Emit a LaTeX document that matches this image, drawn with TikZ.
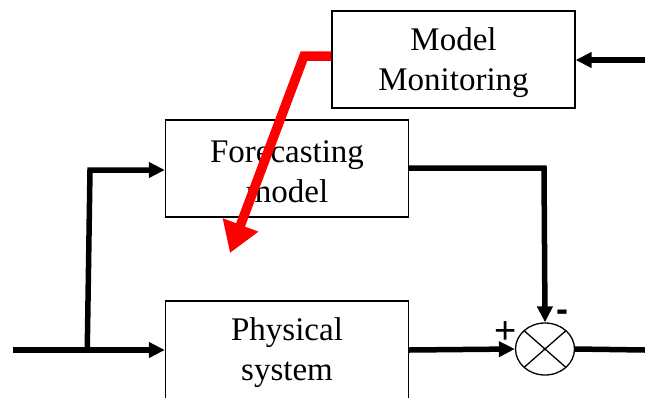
\documentclass[tikz,border=0pt]{standalone}
\usepackage{fontspec}
\setmainfont{Liberation Serif}
\newfontfamily\arialfont{Liberation Sans}
\usetikzlibrary{arrows.meta,shapes.geometric,calc}
\begin{document}
\begin{tikzpicture}[x=1pt,y=-1pt,
  blk/.style={draw, line width=1.3pt, minimum width=243pt, minimum height=97pt, inner sep=0pt, align=center},
  txt/.style={inner sep=0pt, align=center, font=\fontsize{33}{40}\selectfont},
  sig/.style={line width=5.5pt, -{Triangle[length=16pt,width=15pt]}},
  wire/.style={line width=5.5pt},
  sgn/.style={inner sep=0pt, font=\arialfont\fontsize{38}{38}\selectfont}]
\useasboundingbox (0,0) rectangle (645,397);
\clip (0,0) rectangle (645,397);
\node[blk] (mm) at (453.5,59.5) {};
\node[txt] (mmt) at (453.5,63) {Model\\Monitoring};
\node[blk] (fm) at (287,168.5) {};
\node[txt] (fmt) at (287,172) {Forecasting\\model};
\node[blk, minimum height=130pt] (ps) at (287,366) {};
\node[txt] (pst) at (287,353) {Physical\\system};
\node[draw, ellipse, line width=1.3pt, minimum width=59pt, minimum height=52pt, inner sep=0pt] (sum) at (545,349) {};
\draw[line width=1.3pt] ($(sum.center)+(-20.5,-18)$) -- ($(sum.center)+(20.5,18)$);
\draw[line width=1.3pt] ($(sum.center)+(20.5,-18)$) -- ($(sum.center)+(-20.5,18)$);
\coordinate (in) at (13,350);
\coordinate (br) at (90,350);
\coordinate (out) at (645,350);
\coordinate (mon) at (645,60);
\draw[wire] (in) -- (br);
\draw[sig] (br) -- (ps.west |- br);
\draw[sig] ([xshift=-2.75pt]br) -- (90,170) -- (fm.west |- 0,170);
\draw[sig] (fm.east |- 0,168) -- (544,168) -- (sum.north);
\draw[sig] (ps.east |- 0,350) -- (sum.west);
\draw[wire] (sum.east) -- (out);
\draw[sig] (mon) -- (mm.east |- mon);
\node[sgn] (plus) at (506,333) {+};
\node[sgn, font=\arialfont\bfseries\fontsize{36}{36}\selectfont] (minus) at (562,316) {-};
\draw[red, line width=9.5pt, line join=miter, -{Triangle[length=30pt,width=36pt]}] (mm.west |- 0,56) -- (304,56) -- (230,253);
\end{tikzpicture}
\end{document}
